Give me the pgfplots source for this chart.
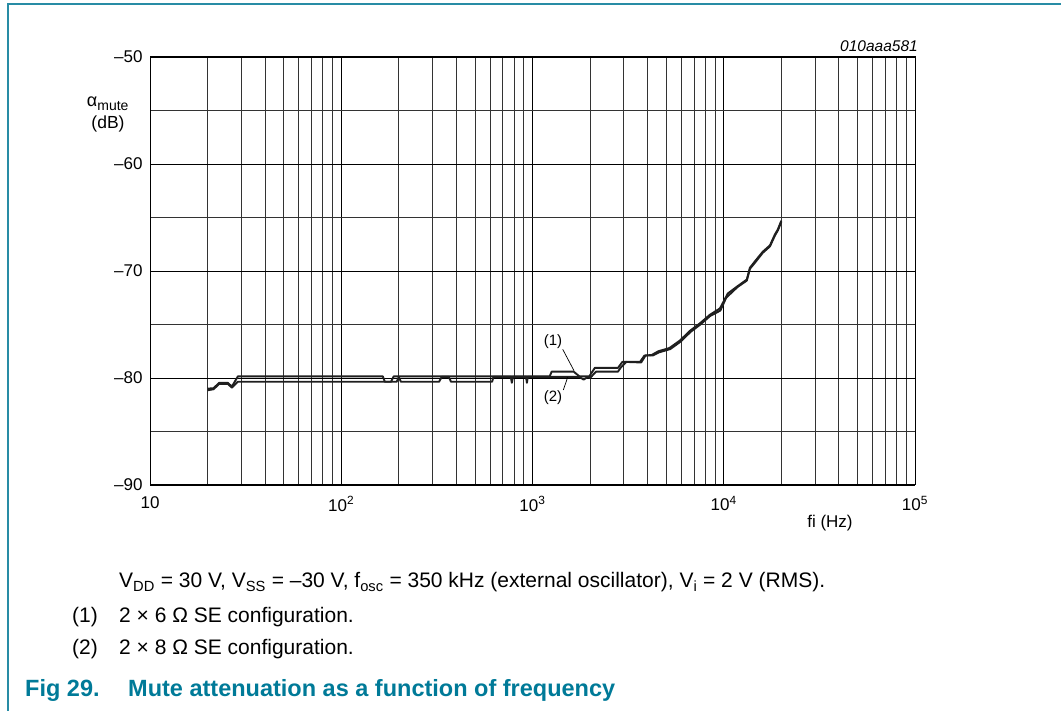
\documentclass[border=0pt]{standalone}
\usepackage{fontspec}
\setmainfont{Liberation Sans}
\usepackage{pgfplots}
\pgfplotsset{compat=1.18}
\definecolor{nxp}{RGB}{0,122,152}
\definecolor{framec}{RGB}{40,140,165}
\begin{document}
\begin{tikzpicture}[x=1pt,y=1pt]
\useasboundingbox (0,0) rectangle (1061,711);
\draw[framec, line width=1.5pt] (8,0) -- (8,707) -- (1061,707);
\begin{axis}[
  scale only axis, width=765pt, height=428pt,
  anchor=south west, at={(150pt,226pt)},
  xmode=log, xmin=10, xmax=100000, ymin=-90, ymax=-50,
  xtick={10,100,1000,10000,100000},
  xticklabels={10,10\textsuperscript{2},10\textsuperscript{3},10\textsuperscript{4},10\textsuperscript{5}},
  minor xtick={20,30,40,50,60,70,80,90,200,300,400,500,600,700,800,900,2000,3000,4000,5000,6000,7000,8000,9000,20000,30000,40000,50000,60000,70000,80000,90000},
  ytick={-90,-80,-70,-60,-50},
  yticklabels={–90,–80,–70,–60,–50},
  minor ytick={-85,-75,-65,-55},
  grid=both,
  major grid style={black, line width=0.8pt},
  minor grid style={black!80, line width=0.8pt},
  axis line style={black, line width=1pt},
  major tick length=0pt, minor tick length=0pt,
  tick label style={font=\fontsize{17}{20}\selectfont},
  xticklabel style={yshift=-8pt},
  yticklabel style={xshift=-4pt},
  clip=false,
]
\addplot[black!88, line width=1.9pt, line join=round] coordinates {
(20,-81.0) (21.5,-80.95) (23,-80.45) (25.5,-80.45) (26.8,-80.8) (28.8,-79.85)
(165,-79.85) (169,-80.35) (182,-80.35) (188,-79.85) (1230,-79.85) (1260,-79.4)
(1640,-79.4) (1760,-79.85) (1980,-79.85) (2120,-79.05) (2800,-79.05) (2950,-78.5)
(3650,-78.5) (3850,-77.9) (4200,-77.85) (4550,-77.5) (5200,-77.2) (5900,-76.5)
(6650,-75.6) (7500,-74.9) (8450,-74.1) (9550,-73.5) (10500,-72.1) (11850,-71.4)
(13200,-70.8) (13700,-69.7) (14550,-69.1) (16000,-68.2) (17450,-67.6) (18500,-66.6)
(19200,-66.1) (20000,-65.3)
};
\addplot[black!88, line width=1.9pt, line join=round] coordinates {
(20,-81.15) (21.5,-81.05) (23,-80.55) (25.5,-80.55) (26.8,-80.9) (28.8,-80.35)
(195,-80.35) (200,-79.9) (205,-80.35) (325,-80.35) (335,-79.9) (365,-79.9)
(375,-80.35) (615,-80.35) (625,-79.9) (770,-79.9) (780,-80.45) (790,-79.9)
(925,-79.9) (935,-80.45) (945,-79.9) (1760,-79.9) (1850,-80.15) (1950,-79.9)
(2000,-80.0) (2150,-79.4) (2800,-79.4) (2900,-79.0) (3100,-78.5) (3700,-78.55)
(3900,-77.9) (4250,-77.9) (4600,-77.6) (5250,-77.3) (5950,-76.6) (6700,-75.7)
(7550,-75.0) (8500,-74.2) (9600,-73.7) (10300,-72.5) (11800,-71.5) (13200,-70.9)
(13700,-69.8) (14600,-69.2) (16000,-68.3) (17450,-67.7) (18500,-66.7) (19200,-66.2)
(20000,-65.4)
};
\end{axis}
% axis labels
\node[anchor=base, inner sep=0pt, font=\fontsize{18}{20}\selectfont] at (108,711-107) {α\textsubscript{\fontsize{14}{16}\selectfont mute}};
\node[anchor=base, inner sep=0pt, font=\fontsize{17.5}{20}\selectfont] at (108,711-129) {(dB)};
\node[anchor=base, inner sep=0pt, font=\fontsize{17}{20}\selectfont] at (830,711-528) {fi (Hz)};
\node[anchor=base east, inner sep=0pt, font=\fontsize{15.5}{18}\selectfont\itshape] at (918,711-52) {010aaa581};
% curve annotations
\node[inner sep=0pt, font=\fontsize{15}{17}\selectfont] at (553,711-342) {(1)};
\draw[black, line width=0.7pt] (562.7,711-349.3) -- (574,711-370.7);
\node[inner sep=0pt, font=\fontsize{15}{17}\selectfont] at (553,711-398) {(2)};
\draw[black, line width=0.7pt] (563.3,711-390) -- (567.7,711-377.3);
% footnotes
\node[anchor=base west, inner sep=0pt, font=\fontsize{21}{24}\selectfont] at (119,711-588) {V\textsubscript{DD} = 30 V, V\textsubscript{SS} = –30 V, f\textsubscript{osc} = 350 kHz (external oscillator), V\textsubscript{i} = 2 V (RMS).};
\node[anchor=base west, inner sep=0pt, font=\fontsize{21}{24}\selectfont] at (72,711-623) {(1)};
\node[anchor=base west, inner sep=0pt, font=\fontsize{21}{24}\selectfont] at (119,711-623) {2 × 6 Ω SE configuration.};
\node[anchor=base west, inner sep=0pt, font=\fontsize{21}{24}\selectfont] at (72,711-655) {(2)};
\node[anchor=base west, inner sep=0pt, font=\fontsize{21}{24}\selectfont] at (119,711-655) {2 × 8 Ω SE configuration.};
\node[anchor=base west, inner sep=0pt, text=nxp, font=\fontsize{23.5}{26}\selectfont\bfseries] at (25,711-697) {Fig 29.};
\node[anchor=base west, inner sep=0pt, text=nxp, font=\fontsize{23.5}{26}\selectfont\bfseries] at (128,711-697) {Mute attenuation as a function of frequency};
\end{tikzpicture}
\end{document}
